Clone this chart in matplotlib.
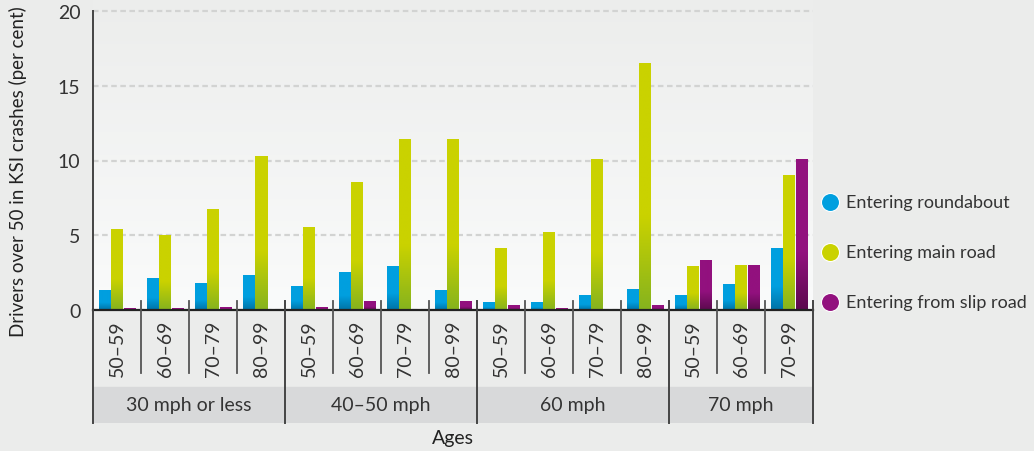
import numpy as np
import matplotlib
matplotlib.use("Agg")
import matplotlib.pyplot as plt
from matplotlib.lines import Line2D
from matplotlib.colors import to_rgb

plt.rcParams['font.family'] = ['Lato', 'DejaVu Sans']

speed_bands = ['30 mph or less', '40–50 mph', '60 mph', '70 mph']
age_labels = ['50–59', '60–69', '70–79', '80–99',
              '50–59', '60–69', '70–79', '80–99',
              '50–59', '60–69', '70–79', '80–99',
              '50–59', '60–69', '70–99']
ages_per_band = [4, 4, 4, 3]

roundabout = [1.3, 2.1, 1.8, 2.3, 1.6, 2.5, 2.9, 1.3, 0.5, 0.5, 1.0, 1.4, 1.0, 1.7, 4.1]
main_road = [5.4, 5.0, 6.7, 10.3, 5.5, 8.5, 11.4, 11.4, 4.1, 5.2, 10.1, 16.5, 2.9, 3.0, 9.0]
slip_road = [0.1, 0.1, 0.2, 0.0, 0.2, 0.6, 0.0, 0.6, 0.3, 0.1, 0.0, 0.3, 3.3, 3.0, 10.1]

series_names = ['Entering roundabout', 'Entering main road', 'Entering from slip road']
series_colors = ['#009FDF', '#CAD200', '#92117E']
series_dark = ['#0073A6', '#86B31E', '#5C0A4E']

BG = '#EBECEB'
BAND = '#D8D9DA'
W, H = 1034, 452
PX_PER_UNIT = 14.95
AX_L, AX_R, AX_B = 93, 813, 311
LOWER_B = 424

fig = plt.figure(figsize=(W / 100, H / 100), dpi=100, facecolor=BG)
ax = fig.add_axes([AX_L / W, (H - AX_B) / H, (AX_R - AX_L) / W, AX_B / H])
ax.set_facecolor(BG)

ymax = AX_B / PX_PER_UNIT
n = len(age_labels)
x = np.arange(n)

# soft vertical gradient behind the bars
top = np.array(to_rgb('#ECEDEC'))
bot = np.array(to_rgb('#FAFBFB'))
t = np.linspace(0, 1, 200)[:, None]
grad = (bot * (1 - t) + top * t)[:, None, :]
ax.imshow(grad, extent=[-0.5, n - 0.5, 0, ymax], origin='lower',
          aspect='auto', zorder=0, interpolation='bilinear')


def shade_bar(patch, base, dark):
    h = patch.get_height()
    if h <= 0:
        return
    rows = 100
    frac = np.linspace(0, 1, rows)[:, None]
    fade = np.clip(frac / 0.38, 0, 1)
    c0 = np.array(to_rgb(dark))
    c1 = np.array(to_rgb(base))
    img = (c0 * (1 - fade) + c1 * fade)[:, None, :]
    ax.imshow(img, extent=[patch.get_x(), patch.get_x() + patch.get_width(), 0, h],
              origin='lower', aspect='auto', zorder=3, interpolation='bilinear')


bw = 0.25
offsets = [-0.255, 0.01, 0.275]
for vals, off, c, dk in zip([roundabout, main_road, slip_road], offsets,
                            series_colors, series_dark):
    bars = ax.bar(x + off, vals, width=bw, color=c, zorder=2, linewidth=0)
    for p in bars:
        shade_bar(p, c, dk)

ax.set_xlim(-0.5, n - 0.5)
ax.set_ylim(0, ymax)
ax.set_yticks([0, 5, 10, 15, 20])
ax.set_xticks([])
ax.tick_params(axis='y', length=0, pad=9, labelsize=14, labelcolor='#333333')
ax.grid(axis='y', color='#D2D3D2', lw=1.6, ls=(0, (2.5, 1.6)), zorder=1)
for s in ['top', 'right']:
    ax.spines[s].set_visible(False)
ax.spines['left'].set_bounds(0, 20)
ax.spines['left'].set_color('#444444')
ax.spines['left'].set_linewidth(1.4)
ax.spines['bottom'].set_color('#222222')
ax.spines['bottom'].set_linewidth(1.6)
ax.spines['bottom'].set_zorder(5)

# category strip under the bars
low = fig.add_axes([AX_L / W, (H - LOWER_B) / H, (AX_R - AX_L) / W, (LOWER_B - AX_B) / H])
low.set_xlim(-0.5, n - 0.5)
low.set_ylim(LOWER_B - AX_B, 0)
low.axis('off')
low.axhspan(77, LOWER_B - AX_B, color=BAND, zorder=0)

band_edges = np.cumsum([0] + ages_per_band) - 0.5
for i, lab in enumerate(age_labels):
    low.text(i, 38, lab, rotation=90, ha='center', va='center',
             fontsize=14, color='#333333')
for k in range(1, n):
    xe = k - 0.5
    if xe in band_edges:
        continue
    low.plot([xe, xe], [-9, 63], color='#555555', lw=1.3, clip_on=False, zorder=3)
for xe in band_edges:
    low.plot([xe, xe], [-9 if xe > -0.5 else 0, LOWER_B - AX_B],
             color='#444444', lw=1.4, clip_on=False, zorder=3)
for j, name in enumerate(speed_bands):
    low.text((band_edges[j] + band_edges[j + 1]) / 2, 95, name,
             ha='center', va='center', fontsize=14, color='#333333')

fig.text((AX_L + AX_R) / 2 / W, 1 - 439 / H, 'Ages', ha='center', va='center',
         fontsize=14, color='#222222')
fig.text(18 / W, 1 - 172 / H, 'Drivers over 50 in KSI crashes (per cent)',
         rotation=90, ha='center', va='center', fontsize=13.5, color='#222222')

# legend
for j, (name, c) in enumerate(zip(series_names, series_colors)):
    yy = 1 - (203 + 50 * j) / H
    fig.add_artist(Line2D([830 / W], [yy], marker='o', markersize=13, color=c,
                          markeredgecolor='white', markeredgewidth=0.8,
                          transform=fig.transFigure))
    fig.text(846 / W, yy, name, ha='left', va='center', fontsize=13, color='#333333')

fig.savefig('out.png', dpi=100, facecolor=BG)
